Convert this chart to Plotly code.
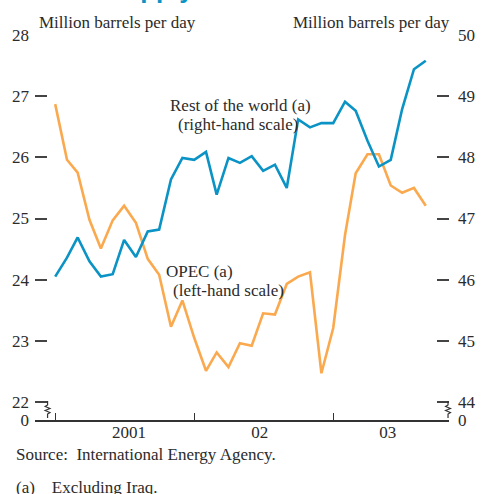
import plotly.graph_objects as go

# ---------------- data ----------------
months = [
    "2001-01-01", "2001-02-01", "2001-03-01", "2001-04-01", "2001-05-01", "2001-06-01",
    "2001-07-01", "2001-08-01", "2001-09-01", "2001-10-01", "2001-11-01", "2001-12-01",
    "2002-01-01", "2002-02-01", "2002-03-01", "2002-04-01", "2002-05-01", "2002-06-01",
    "2002-07-01", "2002-08-01", "2002-09-01", "2002-10-01", "2002-11-01", "2002-12-01",
    "2003-01-01", "2003-02-01", "2003-03-01", "2003-04-01", "2003-05-01", "2003-06-01",
    "2003-07-01", "2003-08-01", "2003-09-01",
]
# Rest of the world (a), right-hand scale, million barrels per day
rest_of_world = [
    46.05, 46.36, 46.69, 46.30, 46.05, 46.09, 46.65, 46.37, 46.79, 46.82, 47.64, 47.99,
    47.96, 48.09, 47.39, 47.99, 47.91, 48.02, 47.78, 47.88, 47.50, 48.62, 48.49, 48.56,
    48.56, 48.91, 48.76, 48.27, 47.85, 47.96, 48.79, 49.44, 49.58,
]
# OPEC (a), left-hand scale, million barrels per day
opec = [
    26.87, 25.96, 25.75, 24.98, 24.51, 24.97, 25.21, 24.93, 24.34, 24.08, 23.23, 23.66,
    23.05, 22.51, 22.81, 22.57, 22.96, 22.92, 23.45, 23.43, 23.93, 24.05, 24.12, 22.47,
    23.21, 24.73, 25.74, 26.05, 26.05, 25.54, 25.42, 25.50, 25.21,
]
left_ticks = [22, 23, 24, 25, 26, 27, 28]
right_ticks = [44, 45, 46, 47, 48, 49, 50]
year_labels = ["2001", "02", "03"]
year_label_pos = ["2001-07-14", "2002-06-22", "2003-05-24"]

# ---------------- layout helpers ----------------
W, H = 488, 494
L, R, T, B = 32, 28, 35, 74
PW, PH = W - L - R, H - T - B
BLUE = "#0a93c4"
ORANGE = "#fba94e"
TXT = "#2b2b2b"
FONT = "Liberation Serif"
FS = 17

def px(x):
    return (x - L) / PW

def py(y):
    return (H - B - y) / PH

left_bottom = 22 - 18 / 61.2
right_bottom = 44 - 18 / 61.2

fig = go.Figure()
fig.add_trace(go.Scatter(x=months, y=opec, mode="lines", name="OPEC (a)",
                         line=dict(color=ORANGE, width=2.6), yaxis="y"))
fig.add_trace(go.Scatter(x=months, y=rest_of_world, mode="lines", name="Rest of the world (a)",
                         line=dict(color=BLUE, width=2.6), yaxis="y2"))

fig.update_layout(
    width=W, height=H,
    margin=dict(l=L, r=R, t=T, b=B, pad=0),
    paper_bgcolor="white", plot_bgcolor="white",
    showlegend=False,
    font=dict(family=FONT, size=FS, color=TXT),
    xaxis=dict(
        range=["2000-11-09", "2003-11-01"],
        showgrid=False, zeroline=False,
        showline=True, linecolor="#333", linewidth=1.5,
        tickmode="array", tickvals=year_label_pos, ticktext=year_labels,
        ticks="", ticklabelstandoff=-4,
        minor=dict(ticks="inside", ticklen=7, tickwidth=1.3, tickcolor="#333",
                   dtick="M12", tick0="2001-01-01", showgrid=False),
    ),
    yaxis=dict(
        range=[left_bottom, 28],
        showgrid=False, zeroline=False, showline=False,
        tickmode="array", tickvals=[left_bottom] + left_ticks,
        ticktext=["0"] + [str(v) for v in left_ticks],
        ticks="inside", ticklen=12, tickwidth=1.5, tickcolor="#444",
        ticklabelstandoff=5,
    ),
    yaxis2=dict(
        range=[right_bottom, 50], overlaying="y", side="right",
        showgrid=False, zeroline=False, showline=False,
        tickmode="array", tickvals=[right_bottom] + right_ticks,
        ticktext=["0"] + [str(v) for v in right_ticks],
        ticks="inside", ticklen=12, tickwidth=1.5, tickcolor="#444",
        ticklabelstandoff=8,
    ),
)

# axis-break zigzags
def zig(x0):
    pts = [(x0, 401), (x0, 405), (x0 - 2.5, 406.5), (x0 + 2.5, 408.5), (x0 - 2.5, 410.5),
           (x0 + 2.5, 412.5), (x0, 414), (x0, 418)]
    return "M " + " L ".join(f"{px(a):.5f},{py(b):.5f}" for a, b in pts)

for x0 in (45, 459):
    fig.add_shape(type="path", path=zig(x0), xref="paper", yref="paper",
                  line=dict(color="#333", width=1.2))

ann = [
    ("Million barrels per day", 34, 23, "left"),
    ("Million barrels per day", 463, 23, "right"),
    ("Rest of the world (a)", 170, 106, "left"),
    ("(right-hand scale)", 178, 125, "left"),
    ("OPEC (a)", 165, 271, "left"),
    ("(left-hand scale)", 173, 290, "left"),
    ("Source:  International Energy Agency.", 10, 454, "left"),
    ("(a)    Excluding Iraq.", 10, 487, "left"),
]
for text, x, y, anchor in ann:
    fig.add_annotation(text=text, x=px(x), y=py(y), xref="paper", yref="paper",
                       xanchor=anchor, yanchor="middle", showarrow=False,
                       font=dict(family=FONT, size=FS, color=TXT))

# partially visible chart title at the very top
fig.add_annotation(text="<b>Oil supply</b>", x=px(198), y=py(6), xref="paper", yref="paper",
                   xanchor="right", yanchor="bottom", showarrow=False,
                   font=dict(family="Liberation Sans", size=26, color=BLUE))

# the page has no body margin, so the 488x494 figure fills the window exactly
fig.write_html("out.html", config={"displayModeBar": False},
               post_script="document.body.style.margin='0';document.body.style.padding='0';")
